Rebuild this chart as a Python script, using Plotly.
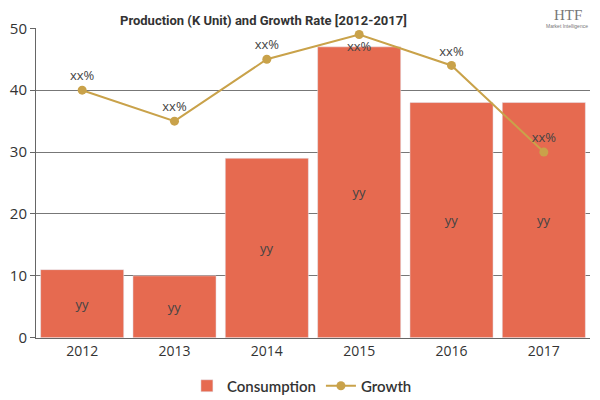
import plotly.graph_objects as go

years = ["2012", "2013", "2014", "2015", "2016", "2017"]
consumption = [11, 10, 29, 47, 38, 38]
growth = [40, 35, 45, 49, 44, 30]
bar_labels = ["yy"] * 6
growth_labels = ["xx%"] * 6
label_pos = ["top center", "top center", "top center", "bottom center", "top center", "top center"]

bar_color = "#e66a50"
line_color = "#c9a24a"

fig = go.Figure()
fig.add_trace(go.Bar(
    x=years, y=consumption, name="Consumption", marker_color=bar_color,
    text=bar_labels, textposition="inside", insidetextanchor="middle",
    textfont=dict(color="#444", size=13, family="Open Sans"),
))
fig.add_trace(go.Scatter(
    x=years, y=growth, name="Growth", mode="lines+markers+text",
    text=growth_labels, textposition=label_pos,
    textfont=dict(color="#444", size=13, family="Open Sans"),
    line=dict(color=line_color, width=2), marker=dict(size=9, color=line_color),
))

fig.add_annotation(xref="paper", yref="paper", x=0.41, y=1.0, yshift=17,
                   text="<b>Production (K Unit) and Growth Rate [2012-2017]</b>",
                   showarrow=False, xanchor="center",
                   font=dict(family="Roboto", size=13, weight=900, color="#333"))
fig.add_annotation(xref="paper", yref="paper", x=0.99, y=1.0, yshift=23,
                   text="HTF", showarrow=False, xanchor="right",
                   font=dict(family="Liberation Serif", size=15, color="#777"))
fig.add_annotation(xref="paper", yref="paper", x=1.0, y=1.0, yshift=7,
                   text="Market Intelligence", showarrow=False, xanchor="right",
                   font=dict(family="Liberation Sans", size=5, color="#777"))

fig.update_layout(
    width=600, height=400,
    margin=dict(l=31, r=10, t=28, b=61),
    plot_bgcolor="white", paper_bgcolor="white",
    bargap=0.1,
    font=dict(family="Open Sans", size=13, color="#333"),
    showlegend=True,
    legend=dict(orientation="h", x=0.48, xanchor="center",
                yref="container", y=0.035, yanchor="middle",
                font=dict(family="Lato", size=15, weight=600, color="#333")),
    xaxis=dict(type="category", showline=True, linecolor="#666", ticks="",
               showgrid=False, tickfont=dict(size=14, color="#333")),
    yaxis=dict(range=[0, 50.05], dtick=10, showline=True, linecolor="#666",
               gridcolor="#777", gridwidth=1, ticks="outside", tickcolor="#666",
               ticklen=5, zeroline=False, tickfont=dict(size=15, color="#333")),
)
fig.write_html("out.html")
